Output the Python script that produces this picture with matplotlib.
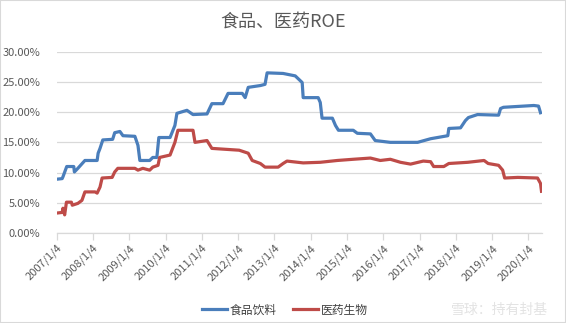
import pandas as pd
import matplotlib.pyplot as plt
from matplotlib.patches import Rectangle
from matplotlib.ticker import FuncFormatter

plt.rcParams['font.family'] = ['Noto Sans CJK SC', 'DejaVu Sans']

# 食品饮料 ROE (%)
food_dates = ["2007-01-04", "2007-02-28", "2007-03-08", "2007-04-15", "2007-06-25", "2007-07-01",
              "2007-08-05", "2007-10-15", "2008-02-15", "2008-02-25", "2008-03-15", "2008-04-12",
              "2008-07-20", "2008-08-10", "2008-10-01", "2008-11-01", "2009-03-01", "2009-04-01",
              "2009-04-20", "2009-07-28", "2009-08-28", "2009-10-08", "2009-10-28", "2010-02-18",
              "2010-04-08", "2010-04-28", "2010-08-07", "2010-10-07", "2011-02-25", "2011-04-15",
              "2011-08-05", "2011-09-25", "2012-02-15", "2012-03-15", "2012-04-15", "2012-08-15",
              "2012-10-01", "2012-10-22", "2013-04-01", "2013-08-01", "2013-10-10", "2013-10-20",
              "2014-03-20", "2014-04-10", "2014-04-28", "2014-08-10", "2014-09-10", "2014-10-10",
              "2015-03-08", "2015-04-18", "2015-08-28", "2015-10-15", "2016-03-15", "2016-09-05",
              "2016-12-15", "2017-04-25", "2017-10-15", "2017-10-25", "2018-02-20", "2018-04-10",
              "2018-05-10", "2018-08-10", "2019-03-10", "2019-03-30", "2019-04-28", "2020-02-28",
              "2020-04-15", "2020-05-05"]
food_roe = [8.9, 9.0, 9.3, 11.0, 11.0, 10.1,
            10.7, 12.0, 12.0, 13.2, 14.0, 15.4,
            15.5, 16.6, 16.8, 16.1, 16.0, 14.5,
            12.0, 12.0, 12.5, 12.5, 15.8, 15.8,
            17.8, 19.8, 20.3, 19.6, 19.7, 21.4,
            21.4, 23.1, 23.1, 22.4, 24.1, 24.4,
            24.6, 26.5, 26.4, 26.0, 24.9, 22.4,
            22.4, 21.6, 19.0, 19.0, 17.8, 17.0,
            17.0, 16.5, 16.4, 15.3, 15.0, 15.0,
            15.0, 15.6, 16.1, 17.3, 17.4, 18.6,
            19.1, 19.6, 19.5, 20.6, 20.8, 21.1,
            21.0, 19.9]

# 医药生物 ROE (%)
pharma_dates = ["2007-01-04", "2007-02-28", "2007-03-08", "2007-03-25", "2007-04-12", "2007-06-01",
                "2007-06-10", "2007-08-05", "2007-09-15", "2007-10-15", "2008-01-25", "2008-02-15",
                "2008-03-15", "2008-04-05", "2008-07-15", "2008-08-10", "2008-09-10", "2009-03-01",
                "2009-04-01", "2009-05-20", "2009-07-28", "2009-08-28", "2009-10-20", "2009-11-05",
                "2010-02-18", "2010-04-08", "2010-05-08", "2010-10-07", "2010-10-27", "2011-02-25",
                "2011-04-15", "2012-01-15", "2012-04-15", "2012-05-25", "2012-08-15", "2012-10-01",
                "2013-02-10", "2013-04-01", "2013-05-10", "2013-10-20", "2014-04-10", "2014-09-28",
                "2015-03-08", "2015-08-28", "2015-12-05", "2016-03-15", "2016-06-25", "2016-10-05",
                "2017-02-10", "2017-04-25", "2017-05-25", "2017-09-05", "2017-10-25", "2018-05-05",
                "2018-10-15", "2018-11-25", "2019-03-10", "2019-04-20", "2019-05-10", "2019-09-20",
                "2020-04-05", "2020-05-05", "2020-05-15"]
pharma_roe = [3.3, 3.4, 4.1, 3.0, 5.1, 5.1,
              4.6, 4.9, 5.4, 6.8, 6.8, 6.6,
              7.6, 9.1, 9.2, 10.1, 10.7, 10.7,
              10.4, 10.7, 10.4, 10.9, 11.2, 12.5,
              12.9, 15.0, 17.0, 17.0, 15.0, 15.3,
              14.0, 13.7, 13.2, 12.0, 11.5, 10.9,
              10.9, 11.5, 11.9, 11.6, 11.7, 12.0,
              12.2, 12.4, 12.0, 12.2, 11.7, 11.4,
              11.9, 11.8, 11.0, 11.0, 11.5, 11.7,
              12.0, 11.5, 11.2, 10.4, 9.1, 9.2,
              9.1, 8.2, 6.9]

tick_dates = ["2007-01-04", "2008-01-04", "2009-01-04", "2010-01-04", "2011-01-04", "2012-01-04",
              "2013-01-04", "2014-01-04", "2015-01-04", "2016-01-04", "2017-01-04", "2018-01-04",
              "2019-01-04", "2020-01-04"]
tick_labels = ["2007/1/4", "2008/1/4", "2009/1/4", "2010/1/4", "2011/1/4", "2012/1/4", "2013/1/4",
               "2014/1/4", "2015/1/4", "2016/1/4", "2017/1/4", "2018/1/4", "2019/1/4", "2020/1/4"]

df_food = pd.DataFrame({"date": pd.to_datetime(food_dates), "roe": food_roe})
df_pharma = pd.DataFrame({"date": pd.to_datetime(pharma_dates), "roe": pharma_roe})

grey = "#595959"
fig = plt.figure(figsize=(5.66, 3.23), dpi=100)
ax = fig.add_axes([56.7 / 566, 90 / 323, (542 - 56.7) / 566, (271.3 - 90) / 323])

ax.plot(df_food["date"], df_food["roe"], color="#4A7EBB", lw=2.3, label="食品饮料",
        solid_joinstyle="round")
ax.plot(df_pharma["date"], df_pharma["roe"], color="#BE4B48", lw=2.3, label="医药生物",
        solid_joinstyle="round")

ax.set_ylim(0, 30)
ax.set_yticks(range(0, 31, 5))
ax.yaxis.set_major_formatter(FuncFormatter(lambda v, p: f"{v:.2f}%"))
ax.set_xlim(pd.Timestamp("2007-01-04"), pd.Timestamp("2020-05-20"))
ax.set_xticks(pd.to_datetime(tick_dates))
ax.set_xticklabels(tick_labels, rotation=45, ha="right", rotation_mode="anchor")

ax.grid(axis="y", color="#D9D9D9", lw=0.9)
ax.set_axisbelow(True)
for s in ["top", "right", "left"]:
    ax.spines[s].set_visible(False)
ax.spines["bottom"].set_color("#D9D9D9")
ax.spines["bottom"].set_linewidth(0.9)
ax.tick_params(axis="y", length=0, pad=12, labelsize=8, labelcolor=grey)
ax.tick_params(axis="x", length=5, width=0.9, color="#D9D9D9", pad=2, labelsize=8, labelcolor=grey)

fig.text(0.5, 1 - 22 / 323, "食品、医药ROE", ha="center", va="center", fontsize=13, color=grey)

fig.legend(loc="center", bbox_to_anchor=(285 / 566, 1 - 310 / 323), ncol=2, frameon=False,
           fontsize=8.5, handlelength=2.1, columnspacing=1.4, handletextpad=0.25)
for t in fig.legends[0].get_texts():
    t.set_color("#404040")

fig.text(548 / 566, 1 - 310 / 323, "雪球：持有封基", ha="right", va="center",
         fontsize=10, color="#E3E3E3")

fig.patches.append(Rectangle((0, 0), 1, 1, transform=fig.transFigure, fill=False,
                             edgecolor="#D9D9D9", lw=1.5))

fig.savefig("out.png", dpi=100)
